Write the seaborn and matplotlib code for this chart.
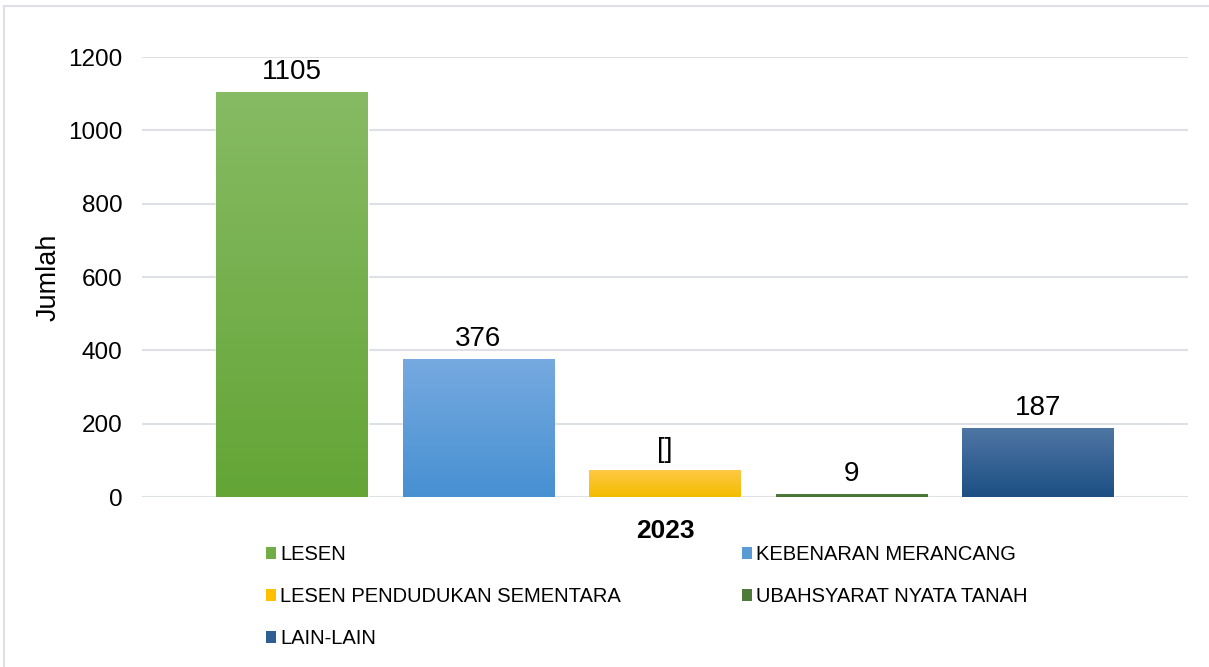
import matplotlib
matplotlib.use("Agg")
import matplotlib.pyplot as plt
import matplotlib.colors as mcolors
from matplotlib.patches import Patch
from matplotlib.lines import Line2D
import numpy as np
import pandas as pd
import seaborn as sns

# data
year = "2023"
categories = ["LESEN", "KEBENARAN MERANCANG", "LESEN PENDUDUKAN SEMENTARA",
              "UBAHSYARAT NYATA TANAH", "LAIN-LAIN"]
values = [1105, 376, 73, 9, 187]
value_labels = ["1105", "376", "[]", "9", "187"]

# gradient colours (top, bottom) per category
top_colors = ["#87BB64", "#76AAE0", "#FFC944", "#4F7C3C", "#4F76A4"]
bottom_colors = ["#64A536", "#4790D2", "#F2BC00", "#4A7537", "#1C4F84"]
mid_colors = ["#70AD47", "#5B9BD5", "#FFC000", "#4E7A3A", "#2E5F94"]

df = pd.DataFrame({"year": year, "category": categories, "value": values})

sns.set_style("white")
plt.rcParams["font.family"] = ["Liberation Sans", "DejaVu Sans"]
plt.rcParams["text.color"] = "black"
plt.rcParams["xtick.color"] = "black"
plt.rcParams["ytick.color"] = "black"
plt.rcParams["axes.labelcolor"] = "black"

fig = plt.figure(figsize=(12.09, 6.67), dpi=100)
ax = fig.add_axes([142 / 1209, 1 - 497 / 667, (1188 - 142) / 1209, (497 - 57) / 667])

sns.barplot(data=df, x="year", y="value", hue="category", hue_order=categories,
            palette=mid_colors, width=0.8915, gap=0.19, legend=False, ax=ax)

ax.set_ylim(0, 1200)
ax.set_xlim(-0.5, 0.5)
ax.set_yticks(range(0, 1201, 200))
ax.grid(axis="y", color="#DDE1E6", linewidth=1.5)
ax.set_axisbelow(True)
for s in ax.spines.values():
    s.set_visible(False)
ax.tick_params(axis="y", length=0, pad=14, labelsize=17.5)
ax.tick_params(axis="x", length=0, pad=16)
for t in ax.get_xticklabels():
    t.set_fontsize(19)
    t.set_fontweight("bold")
ax.set_xlabel("")
ax.set_ylabel("Jumlah", fontsize=19.5, labelpad=5)

# vertical gradient fill inside each bar
bars = [p for p in ax.patches if p.get_height() > 0]
bars.sort(key=lambda p: p.get_x())
for bar, c_top, c_bot in zip(bars, top_colors, bottom_colors):
    x0, w, h = bar.get_x(), bar.get_width(), bar.get_height()
    cmap = mcolors.LinearSegmentedColormap.from_list("g", [c_bot, c_top])
    grad = np.linspace(0, 1, 256).reshape(-1, 1)
    im = ax.imshow(grad, cmap=cmap, origin="lower", aspect="auto",
                   extent=[x0, x0 + w, 0, h], zorder=bar.get_zorder() + 0.1)
    im.set_clip_path(bar)
ax.set_xlim(-0.5, 0.5)
ax.set_ylim(0, 1200)

for cont, lab in zip(ax.containers, value_labels):
    ax.bar_label(cont, labels=[lab], padding=5, fontsize=20)

# legend in two columns, row-major order
handles = [Patch(facecolor=c, edgecolor="none") for c in mid_colors]
order = [0, 2, 4, 1, 3]
fig.legend([handles[i] for i in order], [categories[i] for i in order],
           ncol=2, loc="upper left", bbox_to_anchor=(266 / 1209, 1 - 545 / 667),
           frameon=False, fontsize=14.5, handlelength=0.5, handleheight=0.5,
           handletextpad=0.2, labelspacing=1.15, columnspacing=6.0,
           borderpad=0, borderaxespad=0)

# outer chart border (only left and top visible)
fig.add_artist(Line2D([4 / 1209, 4 / 1209], [0, 1 - 6 / 667], transform=fig.transFigure,
                      color="#DDE1E6", linewidth=1.5))
fig.add_artist(Line2D([4 / 1209, 1], [1 - 6 / 667, 1 - 6 / 667], transform=fig.transFigure,
                      color="#DDE1E6", linewidth=1.5))

fig.savefig("out.png", dpi=100)
